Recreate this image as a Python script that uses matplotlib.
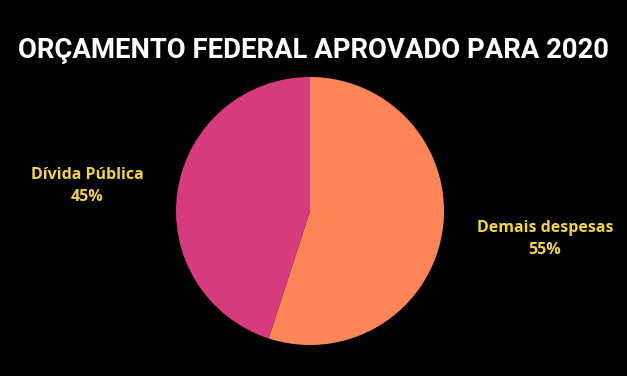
import matplotlib.pyplot as plt

title = 'ORÇAMENTO FEDERAL APROVADO PARA 2020'
categories = ['Demais despesas', 'Dívida Pública']
shares = [55, 45]
colors = ['#FE8558', '#D63B7E']


def main():
    fig = plt.figure(figsize=(6.27, 3.76), dpi=100, facecolor='black')

    # pie centre at (310, 211) px, radius 134 px
    cx, cy, r = 310, 211, 134
    ax = fig.add_axes([(cx - r) / 627, (376 - cy - r) / 376, 2 * r / 627, 2 * r / 376])
    ax.set_facecolor('black')
    ax.pie(shares, colors=colors, startangle=90, counterclock=False,
           radius=1, wedgeprops={'linewidth': 0})
    ax.set_xlim(-1, 1)
    ax.set_ylim(-1, 1)
    ax.axis('off')

    fig.text(313 / 627, 1 - 50 / 376, title, color='white', ha='center', va='center',
             fontsize=19.8, fontweight='bold', family='Roboto')

    label_pos = [(545, 239), (87, 186)]
    for name, val, (x, y) in zip(categories, shares, label_pos):
        fig.text(x / 627, 1 - y / 376, f'{name}\n{val}%', color='#F2D24C',
                 ha='center', va='center', fontsize=11.5, fontweight='bold',
                 family='Open Sans', linespacing=1.45)

    fig.savefig('out.png', dpi=100, facecolor='black')


if __name__ == '__main__':
    main()
